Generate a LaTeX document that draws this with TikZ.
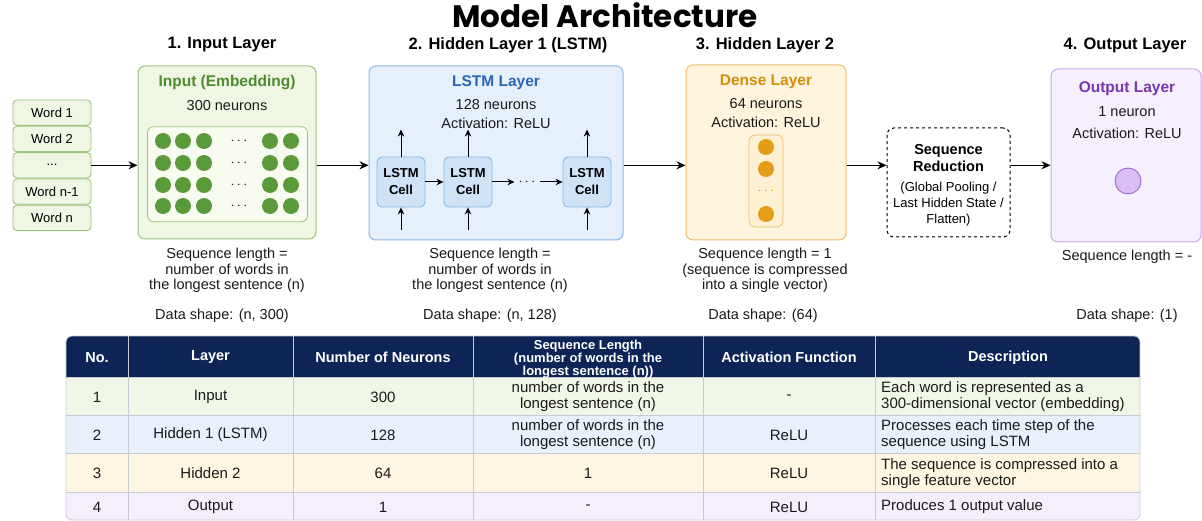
\documentclass[tikz,border=0pt]{standalone}
\usepackage{fontspec}
\setmainfont{Liberation Sans}
\newfontfamily\archtitlefont{Poppins}
\usetikzlibrary{arrows.meta,positioning}

% Colours of the four layers and the table
\definecolor{ingreenfill}{HTML}{EFF6E4}
\definecolor{ingreenline}{HTML}{9CC47E}
\definecolor{ingridfill}{HTML}{F7FBF0}
\definecolor{intitle}{HTML}{4F8A2B}
\definecolor{indot}{HTML}{5B9A3A}
\definecolor{lstmfill}{HTML}{E6F0FB}
\definecolor{lstmline}{HTML}{8AB8E6}
\definecolor{lstmtitle}{HTML}{2B65B5}
\definecolor{cellfill}{HTML}{CFE2F6}
\definecolor{densefill}{HTML}{FEF4DE}
\definecolor{denseline}{HTML}{EDBF6C}
\definecolor{densetitle}{HTML}{D38E0E}
\definecolor{densedot}{HTML}{E49D17}
\definecolor{densepill}{HTML}{FEF0D2}
\definecolor{outfill}{HTML}{F6EFFD}
\definecolor{outborder}{HTML}{C6A8EA}
\definecolor{outtitle}{HTML}{7737AE}
\definecolor{outdot}{HTML}{D9BDF3}
\definecolor{outdotline}{HTML}{9B6BD0}
\definecolor{navy}{HTML}{0E2456}
\definecolor{rowgreen}{HTML}{F1F7E6}
\definecolor{rowblue}{HTML}{E8F1FB}
\definecolor{rowyellow}{HTML}{FEF6E3}
\definecolor{rowpurple}{HTML}{F5EEFB}
\definecolor{gridgray}{HTML}{C5CAD3}
\definecolor{inktext}{HTML}{1A1A1A}

\tikzset{
  flow/.style={-{Stealth[length=9pt,width=8pt]}, line width=1.1pt},
  cellflow/.style={-{Stealth[length=7pt,width=6.5pt]}, line width=1pt},
  layerbox/.style={draw, rounded corners=7pt, line width=1pt, inner sep=0pt},
  wordbox/.style={draw=ingreenline, fill=ingreenfill, rounded corners=4pt, line width=0.9pt,
    minimum width=78pt, minimum height=25.4pt, inner sep=0pt, font=\fontsize{13}{15}\selectfont},
  cellbox/.style={draw=lstmline, fill=cellfill, rounded corners=5pt, line width=0.9pt,
    minimum width=48pt, minimum height=50pt, inner sep=0pt, align=center,
    font=\bfseries\fontsize{13}{17}\selectfont},
  heading/.style={font=\bfseries\fontsize{16.5}{18}\selectfont, inner sep=0pt},
  boxtitle/.style={font=\bfseries\fontsize{15.5}{18}\selectfont, inner sep=0pt},
  body/.style={font=\fontsize{14.5}{15.5}\selectfont, align=center, inner sep=0pt, text=inktext},
  ellipsis/.style={font=\fontsize{15}{15}\selectfont, inner sep=0pt},
  thead/.style={font=\bfseries\fontsize{14.5}{16}\selectfont, text=white, align=center, inner sep=0pt},
  tcell/.style={font=\fontsize{15}{16}\selectfont, align=center, inner sep=0pt, text=inktext},
  gridline/.style={draw=gridgray, line width=0.8pt}
}

\begin{document}
\begin{tikzpicture}[x=1pt, y=-1pt]
  % Canvas
  \fill[white] (0,0) rectangle (1202,521);
  \useasboundingbox (0,0) rectangle (1202,521);

  % Title and layer headings
  \node[font=\archtitlefont\bfseries\fontsize{31}{32}\selectfont, inner sep=0pt] (title) at (605,15) {Model Architecture};
  \node[heading] (head1) at (222,45) {1. Input Layer};
  \node[heading] (head2) at (508,45) {2. Hidden Layer 1 (LSTM)};
  \node[heading] (head3) at (765,45) {3. Hidden Layer 2};
  \node[heading] (head4) at (1125,45) {4. Output Layer};

  % Word sequence
  \node[wordbox] (w1) at (52,112.7) {Word 1};
  \node[wordbox, below=0pt of w1] (w2) {Word 2};
  \node[wordbox, below=0pt of w2] (w3) {...};
  \node[wordbox, below=0pt of w3] (w4) {Word n-1};
  \node[wordbox, below=0pt of w4] (w5) {Word n};

  % Input (embedding) layer
  \node[layerbox, draw=ingreenline, fill=ingreenfill, minimum width=178pt, minimum height=173pt] (inbox) at (227,152.5) {};
  \node[boxtitle, text=intitle] (intitle) at (227,83) {Input (Embedding)};
  \node[body] (inneur) at (227,106) {300 neurons};
  \node[draw=ingreenline, fill=ingridfill, rounded corners=6pt, line width=0.8pt,
    minimum width=160pt, minimum height=95pt, inner sep=0pt] (ingrid) at (227.5,174.2) {};
  \foreach \y in {141,163,185,206}{
    \foreach \x in {163,183,204,270,291}
      \fill[indot] (\x,\y) circle[radius=8pt];
    \node[ellipsis, text=inktext] (indots-\y) at (239,\y) {$\cdots$};
  }
  \draw[flow] (w3.east) -- (w3.east -| inbox.west);

  % LSTM layer
  \node[layerbox, draw=lstmline, fill=lstmfill, minimum width=254pt, minimum height=174pt] (lstm) at (496,153) {};
  \node[boxtitle, text=lstmtitle] (lstmtitle) at (496,83) {LSTM Layer};
  \node[body] (lstmneur) at (496,105) {128 neurons};
  \node[body] (lstmact) at (496,123) {Activation: ReLU};
  \node[cellbox] (c1) at (401,182) {LSTM\\Cell};
  \node[cellbox] (c2) at (468,182) {LSTM\\Cell};
  \node[ellipsis, inner sep=4pt, text=inktext] (ldots) at (527,182) {$\cdots$};
  \node[cellbox] (c3) at (587,182) {LSTM\\Cell};
  \foreach \c in {c1,c2,c3}{
    \draw[cellflow] (\c.north) -- ++(0,-27);
    \draw[cellflow] ([yshift=-23pt]\c.south) -- (\c.south);
  }
  \draw[cellflow] (c1) -- (c2);
  \draw[cellflow] (c2) -- (ldots);
  \draw[cellflow] (ldots) -- (c3);
  \draw[flow] (inbox.east |- w3.east) -- (w3.east -| lstm.west);

  % Dense layer
  \node[layerbox, draw=denseline, fill=densefill, minimum width=160pt, minimum height=175pt] (dense) at (766,152.5) {};
  \node[boxtitle, text=densetitle] (densetitle) at (766,82) {Dense Layer};
  \node[body] (denseneur) at (766,104) {64 neurons};
  \node[body] (denseact) at (766,122) {Activation: ReLU};
  \node[draw=denseline, fill=densepill, rounded corners=6pt, line width=0.8pt,
    minimum width=34pt, minimum height=92pt, inner sep=0pt] (dvec) at (766,181) {};
  \foreach \y in {147,169,214}
    \fill[densedot] (766,\y) circle[radius=8pt];
  \node[ellipsis, text=densedot] (ddots) at (766,191) {$\cdots$};
  \draw[flow] (lstm.east |- w3.east) -- (w3.east -| dense.west);

  % Sequence reduction
  \node[draw, dashed, rounded corners=7pt, line width=1pt, minimum width=123pt, minimum height=109pt] (seqred) at (948.5,182.5) {};
  \node[align=center, inner sep=0pt, font=\bfseries\fontsize{14.5}{17}\selectfont] (seqredtitle) at (948.5,158.5) {Sequence\\Reduction};
  \node[align=center, inner sep=0pt, font=\fontsize{13}{16}\selectfont] (seqrednote) at (948.5,204) {(Global Pooling /\\Last Hidden State /\\Flatten)};
  \draw[flow] (dense.east |- w3.east) -- (w3.east -| seqred.west);

  % Output layer
  \node[layerbox, draw=outborder, fill=outfill, minimum width=150pt, minimum height=173pt] (outbox) at (1126,155.5) {};
  \node[boxtitle, text=outtitle] (outtitle) at (1127,89) {Output Layer};
  \node[body] (outneur) at (1127,112) {1 neuron};
  \node[body] (outact) at (1127,133) {Activation: ReLU};
  \node[circle, draw=outdotline, fill=outdot, line width=0.9pt, minimum size=26pt, inner sep=0pt] (neuron) at (1128,181) {};
  \draw[flow] (seqred.east |- w3.east) -- (w3.east -| outbox.west);

  % Notes under the layers
  \node[body] (inseq) at (227,270.5) {Sequence length =\\number of words in\\the longest sentence (n)};
  \node[body] (inshape) at (222,316) {Data shape: (n, 300)};
  \node[body] (lstmseq) at (490,270.5) {Sequence length =\\number of words in\\the longest sentence (n)};
  \node[body] (lstmshape) at (490,316) {Data shape: (n, 128)};
  \node[body] (denseseq) at (765,270.5) {Sequence length = 1\\(sequence is compressed\\into a single vector)};
  \node[body] (denseshape) at (763,316) {Data shape: (64)};
  \node[body] (outseq) at (1127,257) {Sequence length = -};
  \node[body] (outshape) at (1127,316) {Data shape: (1)};

  % Summary table
  \begin{scope}
    \clip[rounded corners=6pt] (66,336) rectangle (1140,520);
    \fill[navy] (66,336) rectangle (1140,377);
    \foreach \top/\bot/\col in {377/415/rowgreen, 415/453/rowblue, 453/492/rowyellow, 492/520/rowpurple}
      \fill[\col] (66,\top) rectangle (1140,\bot);
    \foreach \x in {128,293,473,703,875}
      \draw[gridline] (\x,336) -- (\x,520);
    \foreach \y in {377,415,453,492}
      \draw[gridline] (66,\y) -- (1140,\y);
  \end{scope}
  \draw[gridline, rounded corners=6pt] (66,336) rectangle (1140,520);

  \node[thead] (th1) at (97,357.5) {No.};
  \node[thead] (th2) at (210.5,357.5) {Layer};
  \node[thead] (th3) at (383,357.5) {Number of Neurons};
  \node[thead, font=\bfseries\fontsize{13}{11.5}\selectfont] (th4) at (588,359) {Sequence Length\\(number of words in the\\longest sentence (n))};
  \node[thead] (th5) at (789,357.5) {Activation Function};
  \node[thead] (th6) at (1008,357.5) {Description};

  \foreach \y/\n/\layer/\neur/\seqlen/\act/\desc in {
    397/1/Input/300/{number of words in the\\longest sentence (n)}/-/{Each word is represented as a\\300-dimensional vector (embedding)},
    435/2/Hidden 1 (LSTM)/128/{number of words in the\\longest sentence (n)}/ReLU/{Processes each time step of the\\sequence using LSTM},
    473.5/3/Hidden 2/64/1/ReLU/{The sequence is compressed into a\\single feature vector},
    507/4/Output/1/-/ReLU/{Produces 1 output value}}
  {
    \node[tcell] (no-\n) at (97,\y) {\n};
    \node[tcell] (layer-\n) at (210.5,\y) {\layer};
    \node[tcell] (neur-\n) at (383,\y) {\neur};
    \node[tcell] (seq-\n) at (588,\y) {\seqlen};
    \node[tcell] (act-\n) at (789,\y) {\act};
    \node[tcell, anchor=west, align=left] (desc-\n) at (881,\y) {\desc};
  }
\end{tikzpicture}
\end{document}
